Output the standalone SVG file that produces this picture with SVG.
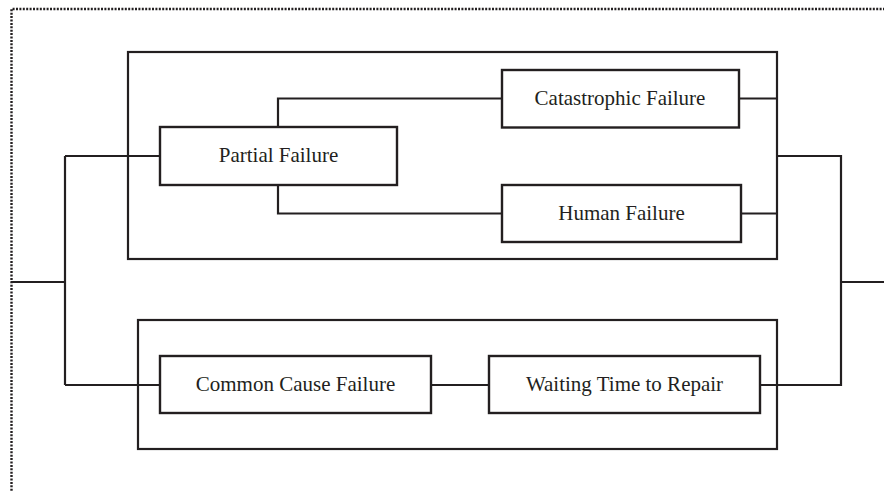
<svg xmlns="http://www.w3.org/2000/svg" width="884" height="492" viewBox="0 0 884 492">
<style>
.box{fill:none;stroke:#231f20;stroke-width:2.2}
.node rect{fill:#fff;stroke:#231f20;stroke-width:2.4}
.node text{font-family:"Liberation Serif","Times New Roman",serif;font-size:21px;fill:#231f20;text-anchor:middle}
#connectors path{fill:none;stroke:#231f20;stroke-width:2.2}
.border{fill:none;stroke:#231f20;stroke-width:2.4;stroke-dasharray:2 1.4}
</style>
<rect width="884" height="492" fill="#fff"/>
<path class="border" d="M885 9 H11.5 V492"/>
<rect id="upper-group" class="box" x="128" y="52" width="649" height="207"/>
<rect id="lower-group" class="box" x="138" y="320" width="639" height="129"/>
<g id="connectors">
<path d="M11 282 H65"/>
<path d="M65 156 V385"/>
<path d="M65 156 H160"/>
<path d="M65 385 H160"/>
<path d="M278 127 V98.5 H502"/>
<path d="M278 185 V213.5 H502"/>
<path d="M739 98.5 H777"/>
<path d="M741 213.5 H777"/>
<path d="M777 156 H841 V385 H760"/>
<path d="M431 385 H489"/>
<path d="M841 282 H884"/>
</g>
<g id="partial-failure" class="node"><rect x="160" y="127" width="237" height="58"/><text x="278.5" y="162">Partial Failure</text></g>
<g id="catastrophic-failure" class="node"><rect x="502" y="70" width="237" height="57.5"/><text x="620" y="105">Catastrophic Failure</text></g>
<g id="human-failure" class="node"><rect x="502" y="185" width="239" height="57"/><text x="621.5" y="219.5">Human Failure</text></g>
<g id="common-cause-failure" class="node"><rect x="160" y="356" width="271" height="57"/><text x="295.5" y="390.5">Common Cause Failure</text></g>
<g id="waiting-time-to-repair" class="node"><rect x="489" y="356" width="271" height="57"/><text x="624.5" y="390.5">Waiting Time to Repair</text></g>
</svg>
